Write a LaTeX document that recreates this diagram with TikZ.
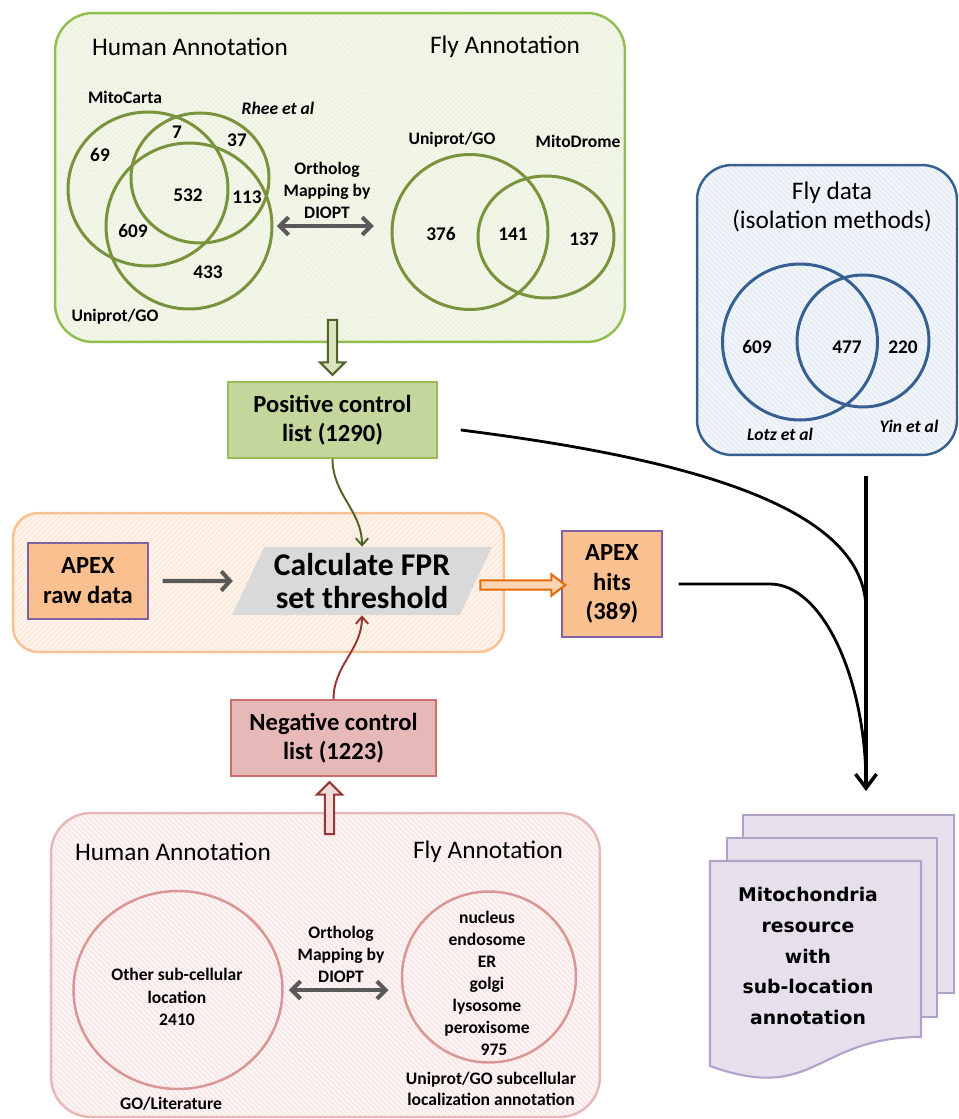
\documentclass[tikz,border=0pt]{standalone}
\usepackage{fontspec}
\setmainfont{Carlito}
\newfontfamily\docfont{DejaVu Sans}
\usetikzlibrary{positioning,calc,shapes.geometric,shapes.arrows,arrows.meta,patterns}
\definecolor{grnEdge}{RGB}{146,190,80}
\definecolor{grnFill}{RGB}{242,246,233}
\definecolor{grnVenn}{RGB}{119,147,60}
\definecolor{grnDark}{RGB}{79,98,40}
\definecolor{grnLight}{RGB}{215,228,189}
\definecolor{grnBox}{RGB}{195,214,155}
\definecolor{grnBoxEdge}{RGB}{155,187,89}
\definecolor{bluEdge}{RGB}{55,96,146}
\definecolor{bluFill}{RGB}{240,245,250}
\definecolor{ornEdge}{RGB}{250,192,144}
\definecolor{ornFill}{RGB}{254,243,234}
\definecolor{ornBox}{RGB}{250,192,144}
\definecolor{ornArrow}{RGB}{228,108,10}
\definecolor{ornLight}{RGB}{252,213,181}
\definecolor{pnkEdge}{RGB}{230,185,184}
\definecolor{pnkFill}{RGB}{252,243,243}
\definecolor{pnkVenn}{RGB}{217,150,148}
\definecolor{redBox}{RGB}{230,185,184}
\definecolor{redBoxEdge}{RGB}{205,110,108}
\definecolor{redDark}{RGB}{149,55,53}
\definecolor{redLight}{RGB}{242,220,219}
\definecolor{purEdge}{RGB}{128,100,162}
\definecolor{docFill}{RGB}{229,224,236}
\definecolor{docEdge}{RGB}{179,162,199}
\definecolor{fprGray}{RGB}{217,217,217}
\definecolor{arrGray}{RGB}{89,89,89}
\newcommand\FontPt[2]{\fontsize{#1}{#2}\selectfont}

\tikzset{
    panel/.style={draw, rounded corners=0.76cm, line width=1.4pt, inner sep=0pt},
    heading/.style={font=\FontPt{14.4}{16}, inner sep=0pt},
    lbl/.style={font=\bfseries\FontPt{10}{12.5}, align=center, inner sep=0pt},
    lblit/.style={font=\bfseries\itshape\FontPt{10}{12}, inner sep=0pt},
    num/.style={font=\bfseries\FontPt{11}{12}, inner sep=0pt},
    venn/.style={ellipse, draw, line width=1.7pt, inner sep=0pt},
    listbox/.style={draw, line width=0.8pt, align=center, font=\bfseries\FontPt{14}{16.5}, inner sep=0pt},
    fprbox/.style={trapezium, trapezium left angle=60, trapezium right angle=120,
        trapezium stretches body, fill=fprGray, minimum width=5.2cm, minimum height=1.36cm,
        align=center, font=\bfseries\FontPt{18}{19}, inner sep=0pt},
    blockarrow/.style={single arrow, draw, line width=1.2pt, inner sep=2pt,
        single arrow head extend=4.5pt, minimum width=0pt},
    dblarrow/.style={arrGray, line width=2.3pt,
        {Straight Barb[length=5pt,width=10pt]}-{Straight Barb[length=5pt,width=10pt]}},
    grayarrow/.style={arrGray, line width=2.3pt, -{Straight Barb[length=5pt,width=11pt]}},
    flow/.style={black, line width=1.6pt},
    docpage/.style={fill=docFill, draw=docEdge, line width=1.2pt},
}

\begin{document}
\begin{tikzpicture}[x=0.02cm,y=-0.02cm]
    \useasboundingbox (0,0) rectangle (959,1119);

    \node[panel, draw=grnEdge, preaction={fill=grnFill}, pattern=crosshatch dots, pattern color=grnEdge!25,
        minimum width=11.4cm, minimum height=6.58cm] (mitoPanel) at (340,177.5) {};
    \node[panel, draw=bluEdge, preaction={fill=bluFill}, pattern=north west lines, pattern color=bluEdge!15,
        rounded corners=0.7cm, minimum width=5.2cm, minimum height=5.8cm] (flyPanel) at (827,310) {};
    \node[panel, draw=ornEdge, preaction={fill=ornFill}, pattern=north east lines, pattern color=ornEdge!45,
        rounded corners=0.5cm, minimum width=9.82cm, minimum height=2.78cm] (apexPanel) at (258.5,582.5) {};
    \node[panel, draw=pnkEdge, preaction={fill=pnkFill}, pattern=north west lines, pattern color=pnkEdge!45,
        rounded corners=0.8cm, minimum width=10.98cm, minimum height=6.08cm] (negPanel) at (325.5,965) {};

    \node[heading] (mitoHumanHead) at (190,47) {Human Annotation};
    \node[heading] (mitoFlyHead) at (505,47) {Fly Annotation};
    \node[venn, draw=grnVenn, minimum width=3.2cm, minimum height=3.08cm] (hMito) at (148,189) {};
    \node[venn, draw=grnVenn, minimum width=2.76cm, minimum height=2.6cm] (hRhee) at (200,178) {};
    \node[venn, draw=grnVenn, minimum size=3.32cm] (hUni) at (189,226) {};
    \node[lbl] (lblMito) at (125,97) {MitoCarta};
    \node[lblit] (lblRhee) at (278,108) {Rhee et al};
    \node[lbl] (lblHUni) at (115,317) {Uniprot/GO};
    \node[num] (n7) at (177,132) {7};
    \node[num] (n37) at (237,140) {37};
    \node[num] (n69) at (100,155) {69};
    \node[num] (n532) at (188,195) {532};
    \node[num] (n113) at (247,197) {113};
    \node[num] (n609) at (133,231) {609};
    \node[num] (n433) at (208,272) {433};
    \node[lbl] (orthTop) at (327,190) {Ortholog\\Mapping by\\DIOPT};
    \node[venn, draw=grnVenn, minimum width=3.12cm, minimum height=3.1cm] (fUni) at (470,232) {};
    \node[venn, draw=grnVenn, minimum width=2.72cm, minimum height=2.44cm] (fDrome) at (546,237) {};
    \node[lbl] (lblFUni) at (452,140) {Uniprot/GO};
    \node[lbl] (lblDrome) at (578,141) {MitoDrome};
    \node[num] (n376) at (441,234) {376};
    \node[num] (n141) at (513,234) {141};
    \node[num] (n137) at (584,239) {137};
    \draw[dblarrow, shorten <=2pt, shorten >=9.5pt] (hUni.east) -- (hUni.east -| fUni.west);

    \node[heading, align=center, font=\FontPt{14.4}{17}] (flyHead) at (832,207) {Fly data\\(isolation methods)};
    \node[venn, draw=bluEdge, minimum width=3.1cm, minimum height=3.12cm] (bLotz) at (800,342) {};
    \node[venn, draw=bluEdge, minimum size=2.64cm] (bYin) at (863,341) {};
    \node[num] (b609) at (757,347) {609};
    \node[num] (b477) at (847,347) {477};
    \node[num] (b220) at (903,347) {220};
    \node[lblit] (lblLotz) at (780,434) {Lotz et al};
    \node[lblit] (lblYin) at (909,426) {Yin et al};

    \node[listbox, fill=grnBox, draw=grnBoxEdge, minimum width=4.18cm, minimum height=1.52cm] (posList) at (332.5,420) {Positive control\\list (1290)};
    \node[listbox, fill=redBox, draw=redBoxEdge, minimum width=4.1cm, minimum height=1.52cm] (negList) at (333.5,738) {Negative control\\list (1223)};
    \node[listbox, fill=ornBox, draw=purEdge, font=\bfseries\FontPt{14}{17}, minimum width=2.4cm, minimum height=1.52cm] (rawData) at (88,581) {APEX\\raw data};
    \node[listbox, fill=ornBox, draw=purEdge, font=\bfseries\FontPt{14}{17}, minimum width=2cm, minimum height=2.12cm] (apexHits) at (612,584) {APEX\\hits\\(389)};
    \node[fprbox] (fpr) at (362,581) {Calculate FPR\\set threshold};

    \node[blockarrow, draw=grnDark, fill=grnLight, rotate=-90, minimum height=1.1cm, anchor=tip] (posArrow) at ($(posList.north)+(0,-5)$) {};
    \node[blockarrow, draw=redDark, fill=redLight, rotate=90, minimum height=1.04cm, anchor=tip] (negArrow) at ($(negList.south)+(-4,4)$) {};
    \node[blockarrow, draw=ornArrow, fill=ornLight, single arrow head extend=3.5pt, single arrow tip angle=75,
        minimum height=1.7cm, anchor=tail] (hitsArrow) at ($(fpr.east)+(3,4)$) {};
    \draw[grayarrow, shorten <=8pt, shorten >=8.5pt] (rawData.east) -- (fpr.west);
    \draw[grnDark, line width=1.1pt, -{Straight Barb[length=4pt,width=7pt]}] (posList.south) to[out=-90,in=90] (fpr.center |- fpr.north);
    \draw[redDark, line width=1.1pt, -{Straight Barb[length=4pt,width=7pt]}] (negList.north) to[out=90,in=-90] (fpr.center |- fpr.south);

    \node[heading] (negHumanHead) at (173,852) {Human Annotation};
    \node[heading] (negFlyHead) at (488,852) {Fly Annotation};
    \node[venn, draw=pnkVenn, line width=1.4pt, minimum width=4.18cm, minimum height=3.96cm] (nHuman) at (178,990) {};
    \node[venn, draw=pnkVenn, line width=1.4pt, minimum width=3.48cm, minimum height=3.42cm] (nFly) at (489,977) {};
    \node[lbl, font=\bfseries\FontPt{10}{12.8}] (otherLoc) at (177,997) {Other sub-cellular\\location\\2410};
    \node[lbl] (goLit) at (171,1104) {GO/Literature};
    \node[lbl] (orthBot) at (341,954) {Ortholog\\Mapping by\\DIOPT};
    \node[lbl] (flyLoc) at (487,983) {nucleus\\endosome\\ER\\golgi\\lysosome\\peroxisome\\\hspace*{0.28cm}975};
    \node[lbl, font=\bfseries\FontPt{10}{12}] (flyLocSrc) at (491,1088.5) {Uniprot/GO subcellular\\localization annotation};
    \draw[dblarrow, shorten <=3pt, shorten >=7pt] (nHuman.east) -- (nHuman.east -| nFly.west);

    \draw[docpage] (743,815) rectangle (954,993);
    \draw[docpage] (727,838) rectangle (937,1017);
    \draw[docpage] (710,861) -- (921,861) -- (921,1037) .. controls (815.5,1037) and (815.5,1104) .. (710,1066) -- cycle;
    \node[align=center, font=\docfont\bfseries\FontPt{10.7}{17.6}, inner sep=0pt] (resource) at (808,956) {Mitochondria\\resource\\with\\sub-location\\annotation};

    \coordinate (dropTop) at (866,476);
    \coordinate (dropEnd) at (866,791);
    \draw[flow] ($(posList.east)+(23,10)$) .. controls (700,460) and (866,510) .. (866,610);
    \draw[flow] ($(apexHits.east)+(16,0)$) -- (770,584) .. controls (823,584) and (866,680) .. (866,785);
    \draw[flow, line width=2pt, -{Straight Barb[length=8pt,width=12pt]}] (dropTop) -- (dropEnd);
\end{tikzpicture}
\end{document}
